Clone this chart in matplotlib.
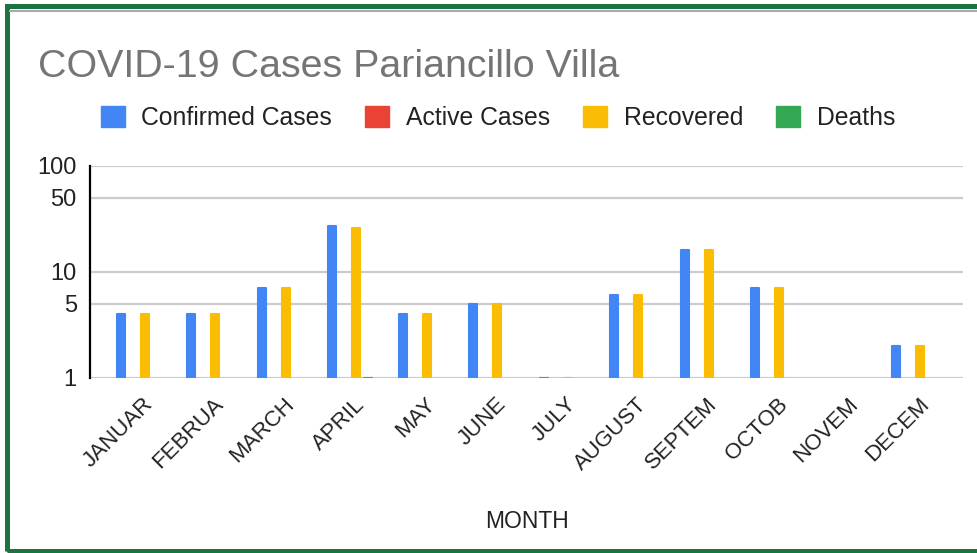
import matplotlib.pyplot as plt
from matplotlib.patches import Rectangle
from matplotlib.lines import Line2D
from matplotlib.transforms import ScaledTranslation
import numpy as np

months = ["JANUAR", "FEBRUA", "MARCH", "APRIL", "MAY", "JUNE",
          "JULY", "AUGUST", "SEPTEM", "OCTOB", "NOVEM", "DECEM"]
confirmed = [4, 4, 7, 27, 4, 5, 1, 6, 16, 7, 0, 2]
active = [0, 0, 0, 0, 0, 0, 0, 0, 0, 0, 0, 0]
recovered = [4, 4, 7, 26, 4, 5, 1, 6, 16, 7, 0, 2]
deaths = [0, 0, 0, 1, 0, 0, 0, 0, 0, 0, 0, 0]

series = [("Confirmed Cases", confirmed, "#4285f4"),
          ("Active Cases", active, "#ea4335"),
          ("Recovered", recovered, "#fbbc04"),
          ("Deaths", deaths, "#34a853")]

plt.rcParams['font.family'] = ['Liberation Sans', 'DejaVu Sans']

W, H = 978, 553
fig = plt.figure(figsize=(W / 100, H / 100), dpi=100)
fig.patch.set_facecolor('white')

ax = fig.add_axes([90 / W, 1 - 377.7 / H, 873 / W, 212 / H])
x = np.arange(len(months))
slot = 0.17
for i, (name, vals, col) in enumerate(series):
    ax.bar(x + (i - 1.5) * slot, vals, width=0.11, color=col,
           edgecolor=col, linewidth=1.5, joinstyle='round', zorder=3)

ax.set_yscale('log')
ax.set_ylim(1, 100)
ax.set_xlim(-0.69, 11.69)
yt = [1, 5, 10, 50, 100]
ax.set_yticks(yt)
ax.set_yticklabels([str(v) for v in yt], fontsize=17, color='#222222')
ax.yaxis.set_minor_locator(plt.NullLocator())
ax.tick_params(axis='y', length=0, pad=9.5)
ax.tick_params(axis='x', length=0, pad=0)
for v in yt:
    ax.axhline(v, color='#cccccc', lw=1.6, zorder=1)

ax.set_xticks(x)
ax.set_xticklabels(months, rotation=45, ha='right', va='top',
                   rotation_mode='anchor', fontsize=16, color='#222222')
# push the slanted month names right and down from the tick point
shift = ScaledTranslation(4 / 100, -16 / 100, fig.dpi_scale_trans)
for lbl in ax.get_xticklabels():
    lbl.set_transform(lbl.get_transform() + shift)

for s in ['top', 'right', 'bottom']:
    ax.spines[s].set_visible(False)
ax.spines['left'].set_color('black')
ax.spines['left'].set_linewidth(1.6)
ax.spines['left'].set_zorder(4)

fig.text(38 / W, 1 - 77 / H, "COVID-19 Cases Pariancillo Villa",
         fontsize=28.4, color='#757575', va='baseline', ha='left')
fig.text(527 / W, 1 - 528 / H, "MONTH", fontsize=16.5, color='#222222',
         ha='center', va='baseline')

handles = [Rectangle((0, 0), 1, 1, color=c) for _, _, c in series]
fig.legend(handles, [n for n, _, _ in series], loc='center',
           bbox_to_anchor=(498 / W, 1 - 118 / H), ncol=4, frameon=False,
           fontsize=17.8, handlelength=0.95, handleheight=0.95,
           handletextpad=0.68, columnspacing=1.35, labelcolor='#222222')

# sheet frame around the chart
fig.add_artist(Line2D([10 / W, 1], [1 - 10.5 / H] * 2, color='#aaaaaa',
                      lw=1.5, transform=fig.transFigure))
fig.add_artist(Rectangle((7.5 / W, 2.5 / H), 1.2, 1 - 8 / H,
                         transform=fig.transFigure, fill=False,
                         edgecolor='#1b7340', lw=3.6))

fig.savefig("out.png", dpi=100)
